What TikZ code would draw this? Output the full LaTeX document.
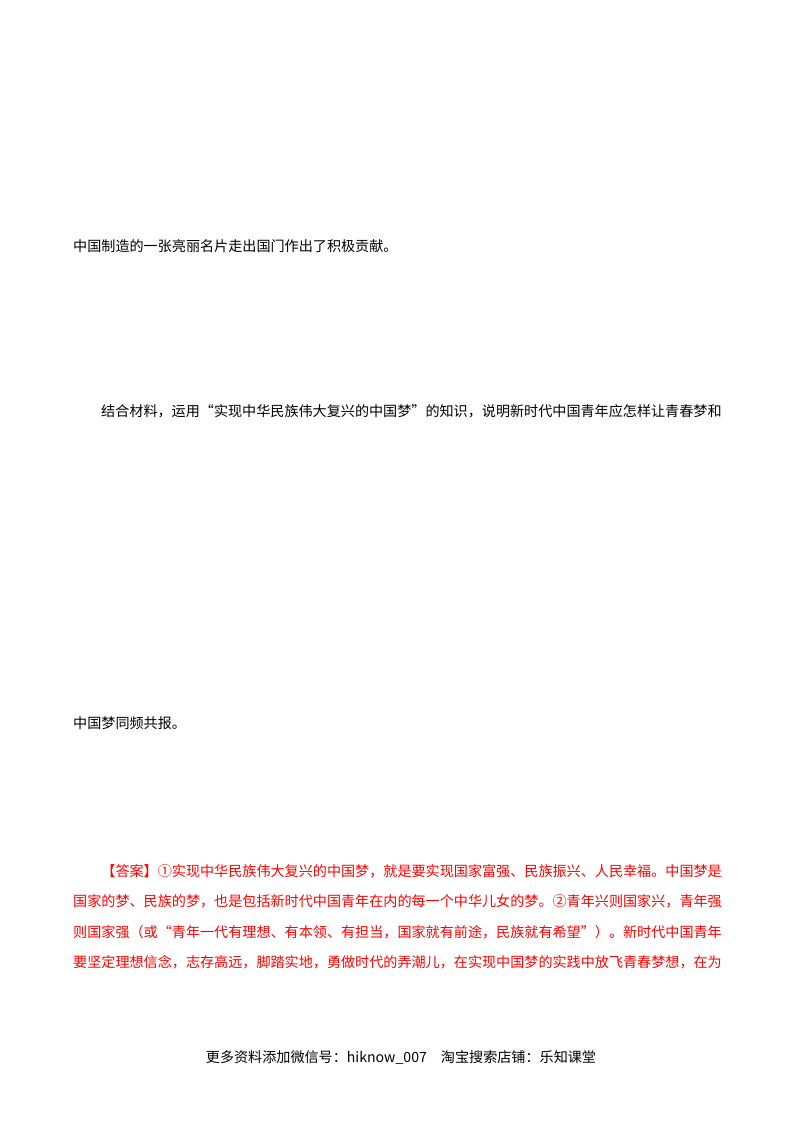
\documentclass[tikz,border=0pt]{standalone}
\usepackage{fontspec}
\setmainfont{Noto Sans CJK SC}
\begin{document}
\begin{tikzpicture}[x=1pt,y=-1pt,
  txt/.style={anchor=west,inner sep=0pt,font=\fontsize{14.1}{14.1}\selectfont},
  ans/.style={txt,text=red}]
\useasboundingbox[fill=white] (0,0) rectangle (800,1132);
\node[txt] (l1) at (73,246) {中国制造的一张亮丽名片走出国门作出了积极贡献。};
\node[txt] (l2) at (101,411) {结合材料，运用“实现中华民族伟大复兴的中国梦”的知识，说明新时代中国青年应怎样让青春梦和};
\node[txt] (l3) at (73,723) {中国梦同频共报。};
\node[ans] (a1) at (73,871) {\hspace{28.2pt}【答案】①实现中华民族伟大复兴的中国梦，就是要实现国家富强、民族振兴、人民幸福。中国梦是};
\node[ans] (a2) at (73,901) {国家的梦、民族的梦，也是包括新时代中国青年在内的每一个中华儿女的梦。②青年兴则国家兴，青年强};
\node[ans] (a3) at (73,932) {则国家强（或“青年一代有理想、有本领、有担当，国家就有前途，民族就有希望”）。新时代中国青年};
\node[ans] (a4) at (73,962) {要坚定理想信念，志存高远，脚踏实地，勇做时代的弄潮儿，在实现中国梦的实践中放飞青春梦想，在为};
\node[txt,anchor=center] (f) at (401,1057) {更多资料添加微信号：hiknow\_007\quad 淘宝搜索店铺：乐知课堂};
\end{tikzpicture}
\end{document}
